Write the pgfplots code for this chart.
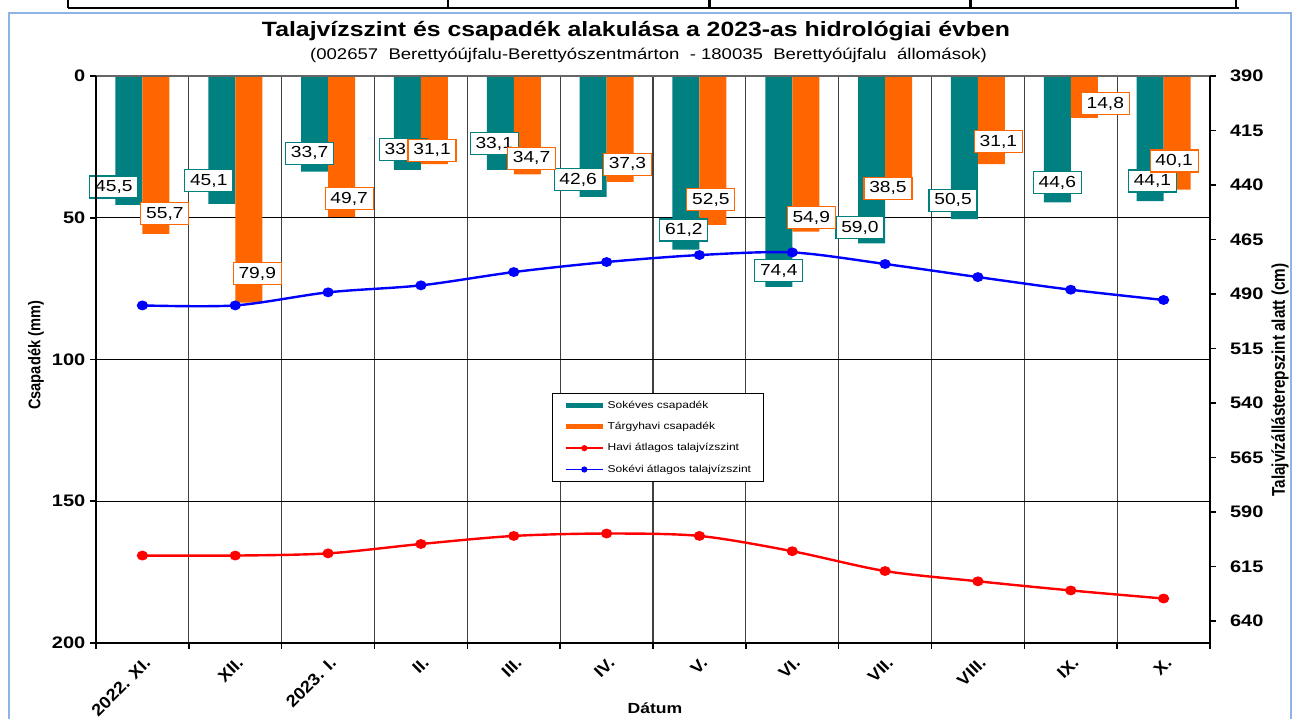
\documentclass[border=0pt]{standalone}
\usepackage{pgfplots}
\pgfplotsset{compat=1.18}
\usepackage{pgfplotstable}
\usepackage{fontspec}
\usepackage{graphicx}
\setmainfont{Liberation Sans}[FakeStretch=1.2]
\newfontfamily\plainfont{Liberation Sans}
\newfontfamily\xfont{Liberation Sans}[FakeStretch=1.1]
\definecolor{tealc}{HTML}{008080}
\definecolor{orangec}{HTML}{FF6600}
\definecolor{frameblue}{HTML}{8DB4E2}

\pgfplotstableread{
x sok dxs dys targy dxt dyt
0 45.5 -15 -18 55.7 9 -20
1 45.1 -13 -23 79.9 8.5 -29
2 33.7 -5 -18.5 49.7 7.5 -18
3 33.1 -4 -20 31.1 -2.4 -14
4 33.1 -6 -26 34.7 4.3 -16
5 42.6 -15 -17 37.3 7.4 -17.7
6 61.2 -2 -19.5 52.5 -2 -25
7 74.4 0 -16 54.9 5.5 -14
8 59.0 -11.6 -15.6 38.5 -10.6 3
9 50.5 -11.4 -19 31.1 7 -22.5
10 44.6 0 -20 14.8 21 -14
11 44.1 2.4 -20 40.1 -3 -28.7
}\csap

\pgfplotstableread{
x havi sokevi
0 609.9 495.2
1 609.9 495.2
2 608.9 489.2
3 604.6 486.0
4 600.9 479.9
5 599.8 475.3
6 600.9 472.1
7 607.9 470.9
8 617.0 476.2
9 621.7 482.2
10 625.9 488.0
11 629.6 492.7
}\talaj

\begin{document}
\begin{tikzpicture}
\useasboundingbox (0pt,0pt) rectangle (969.75pt,538.5pt);
% surrounding page fragments
\draw[frameblue, line width=1.6pt] (6.75pt,-5pt) -- (6.75pt,528.75pt) -- (968.25pt,528.75pt) -- (968.25pt,-5pt);
\draw[black, line width=1.8pt] (51pt,532.5pt) -- (929pt,532.5pt);
\foreach \xx in {51,336,532,728,927} \draw[black, line width=1.8pt] (\xx pt,532.5pt) -- (\xx pt,545pt);

\begin{axis}[
  at={(72pt,56.25pt)}, anchor=south west,
  scale only axis, width=835.5pt, height=425.25pt,
  xmin=-0.5, xmax=11.5, ymin=0, ymax=200, y dir=reverse,
  ybar=0pt, bar width=20.25pt,
  axis line style={draw=none},
  xtick={0,...,11},
  xticklabels={2022. XI., XII., 2023. I., II., III., IV., V., VI., VII., VIII., IX., X.},
  xticklabel style={font=\xfont\bfseries\fontsize{12.5}{12.5}\selectfont, rotate=45, anchor=north east, inner sep=1pt, yshift=-3pt, xshift=-2pt},
  major x tick style={draw=none},
  minor xtick={-0.5,0.5,...,11.5},
  xminorgrids, minor x grid style={black!75, line width=0.9pt},
  minor x tick style={black, line width=1.2pt},
  minor tick length=4.5pt,
  ytick={0,50,100,150,200},
  ymajorgrids, major y grid style={black, line width=0.8pt},
  major tick length=4.5pt,
  major y tick style={black, line width=1.2pt},
  tick align=outside,
  xtick pos=left, ytick pos=left,
  yticklabel style={font=\bfseries\fontsize{12.5}{13}\selectfont},
  /pgf/number format/assume math mode=true,
  clip=false,
]
\addplot[fill=tealc, draw=none, bar shift=-10.125pt] table[x=x,y=sok]{\csap};
\addplot[fill=orangec, draw=none, bar shift=10.125pt] table[x=x,y=targy]{\csap};
\addplot[draw=none, fill=none, bar shift=-10.125pt, point meta=explicit,
  nodes near coords={\pgfmathprintnumber[fixed,fixed zerofill,precision=1,use comma,assume math mode=true]{\pgfplotspointmeta}},
  visualization depends on={\thisrow{dxs} \as \dx},
  visualization depends on={\thisrow{dys} \as \dy},
  every node near coord/.append style={anchor=center, draw=tealc, fill=white, text=black, line width=0.8pt, inner sep=0pt, minimum width=36pt, minimum height=16.5pt, font=\fontsize{12}{12}\selectfont, xshift={(\dx)*0.75pt}, yshift={(0-(\dy))*0.75pt}}]
  table[x=x,y=sok,meta=sok]{\csap};
\addplot[draw=none, fill=none, bar shift=10.125pt, point meta=explicit,
  nodes near coords={\pgfmathprintnumber[fixed,fixed zerofill,precision=1,use comma,assume math mode=true]{\pgfplotspointmeta}},
  visualization depends on={\thisrow{dxt} \as \dx},
  visualization depends on={\thisrow{dyt} \as \dy},
  every node near coord/.append style={anchor=center, draw=orangec, fill=white, text=black, line width=0.8pt, inner sep=0pt, minimum width=36pt, minimum height=16.5pt, font=\fontsize{12}{12}\selectfont, xshift={(\dx)*0.75pt}, yshift={(0-(\dy))*0.75pt}}]
  table[x=x,y=targy,meta=targy]{\csap};
\end{axis}

\begin{axis}[
  at={(72pt,56.25pt)}, anchor=south west,
  scale only axis, width=835.5pt, height=425.25pt,
  xmin=-0.5, xmax=11.5, ymin=390, ymax=650, y dir=reverse,
  axis line style={draw=none},
  hide x axis,
  ytick={390,415,...,640},
  ytick pos=right, yticklabel pos=right,
  tick align=outside, major tick length=4.5pt,
  major tick style={black, line width=1.2pt},
  yticklabel style={font=\bfseries\fontsize{12.5}{13}\selectfont, xshift=7pt},
  /pgf/number format/assume math mode=true,
  clip=false,
  legend image code/.code={\draw[mark repeat=2,mark phase=2,#1] plot coordinates {(0pt,0pt) (14pt,0pt) (28pt,0pt)};},
  legend cell align=left,
  legend style={at={(axis description cs:0.5045,0.441)}, anchor=north, draw=black, line width=0.8pt, fill=white,
    font=\fontsize{7.5}{8}\selectfont, inner xsep=8pt, inner ysep=1pt, row sep=0pt,
    nodes={inner xsep=1.5pt, inner ysep=0pt, minimum height=16pt}},
]
\addlegendimage{tealc, line width=4pt}
\addlegendentry{Sokéves csapadék}
\addlegendimage{orangec, line width=4pt}
\addlegendentry{Tárgyhavi csapadék}
\addlegendimage{red, line width=1pt, mark=*, mark size=1.8pt, mark options={fill=red}}
\addlegendentry{Havi átlagos talajvízszint}
\addlegendimage{blue, line width=1pt, mark=*, mark size=1.8pt, mark options={fill=blue}}
\addlegendentry{Sokévi átlagos talajvízszint}
\addplot[red, line width=1.8pt, smooth, mark=*, mark size=2.75pt, mark options={xscale=1.19, fill=red}, forget plot] table[x=x,y=havi]{\talaj};
\addplot[blue, line width=1.8pt, smooth, mark=*, mark size=2.75pt, mark options={xscale=1.19, fill=blue}, forget plot] table[x=x,y=sokevi]{\talaj};
\end{axis}

% axis frame
\draw[black!60, line width=0.8pt] (72pt,481.5pt) -- (907.5pt,481.5pt);
\draw[black, line width=2.2pt] (72pt,481.5pt) -- (72pt,56.25pt) -- (907.5pt,56.25pt) -- (907.5pt,481.5pt);

% titles
\node[font=\bfseries\fontsize{15.5}{16}\selectfont] at (477pt,515.25pt) {Talajvízszint és csapadék alakulása a 2023-as hidrológiai évben};
\node[font=\fontsize{11.6}{12}\selectfont] at (486.4pt,497.25pt) {(002657\ \ Berettyóújfalu-Berettyószentmárton\ \ - 180035\ \ Berettyóújfalu\ \ állomások)};
\node[font=\bfseries\fontsize{11}{11}\selectfont] at (491.25pt,7pt) {Dátum};
\node[rotate=90] at (27pt,272pt) {\scalebox{1}[1.15]{\plainfont\bfseries\fontsize{11}{11}\selectfont Csapadék (mm)}};
\node[rotate=90] at (960pt,253.5pt) {\scalebox{1}[1.2]{\plainfont\bfseries\fontsize{11.5}{11.5}\selectfont Talajvízállásterepszint alatt (cm)}};
\end{tikzpicture}
\end{document}
